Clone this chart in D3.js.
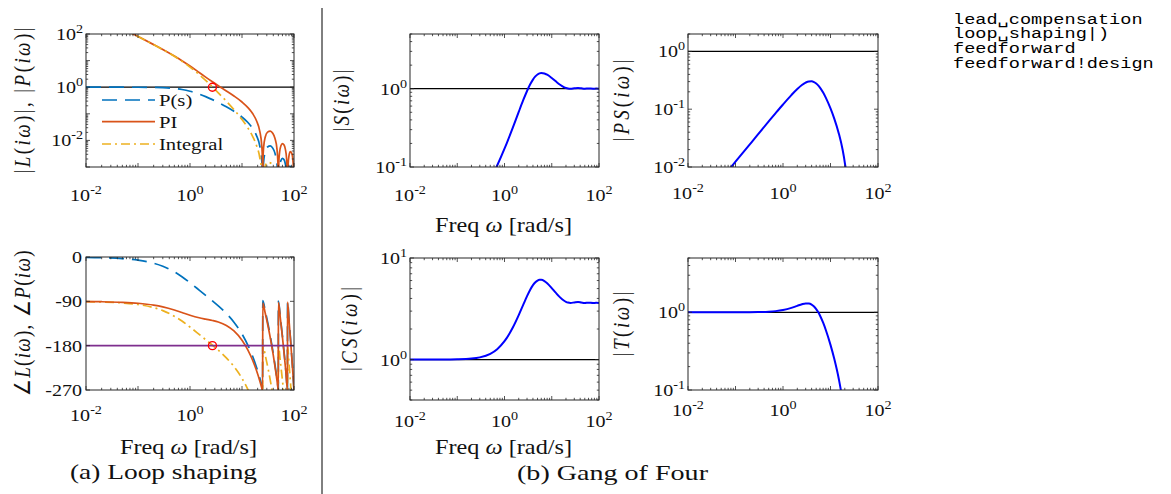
<!DOCTYPE html>
<html><head><meta charset="utf-8">
<script src="https://cdn.jsdelivr.net/npm/d3@7"></script>
<style>body{margin:0;background:#fff} svg{display:block}</style>
</head><body>
<svg id="c" width="1171" height="494"></svg>
<script>
// ---------------- data ----------------
const wLoop = [0.01,0.02,0.05,0.1,0.2,0.3,0.5,0.7,1,1.5,2,2.7,3.5,5,7,10,13,16,19,22,24,24.7,25,25.3,26,28,31,35,39,43,47,49,50,51,53,56,60,64,68,72,74,75,77,80,85,90,95,98,100];
const magP = [1.0,0.9998,0.9988,0.995,0.9805,0.9576,0.8938,0.8181,0.7052,0.5514,0.4425,0.3407,0.2659,0.1835,0.1239,0.0753,0.04686,0.02807,0.01507,0.00605,0.00173,0.000491,0.00001,0.000469,0.001475,0.003735,0.005667,0.006176,0.005137,0.003315,0.001326,0.000415,0.00001,0.000383,0.001042,0.001737,0.002102,0.001908,0.001326,0.000565,0.000182,0.00001,0.000334,0.000731,0.001047,0.000934,0.000518,0.000206,0.00001];
const magPI = [810,404.9,161.8,80.67,39.87,26.08,14.83,9.914,6.251,3.579,2.398,1.597,1.138,0.7244,0.4685,0.2779,0.1712,0.1021,0.05463,0.0219,0.006256,0.001775,0.00001,0.001695,0.00533,0.01349,0.02046,0.02229,0.01853,0.01196,0.004782,0.001497,0.00001,0.001381,0.003756,0.006262,0.007577,0.006878,0.00478,0.002036,0.000656,0.00001,0.001204,0.002633,0.003772,0.003366,0.001867,0.000742,0.00001];
const magInt = [810,405,161.8,80.6,39.71,25.86,14.48,9.467,5.712,2.978,1.792,1.022,0.6154,0.2973,0.1434,0.061,0.0292,0.01421,0.006424,0.002228,0.000584,0.000161,0.000001,0.00015,0.000459,0.00108,0.001481,0.001429,0.001067,0.000624,0.000229,0.0000686,0.000001,0.0000608,0.000159,0.000251,0.000284,0.000241,0.000158,0.0000636,0.00002,0.000001,0.0000351,0.000074,0.0000998,0.0000841,0.0000442,0.000017,0.000001];

const wPhase = [0.01,0.02,0.05,0.1,0.2,0.3,0.5,0.7,1,1.5,2,2.7,3.5,5,7,10,13,16,19,22,24,24.9,25.1,28,32,36,40,44,48,49.9,50.1,55,60,65,70,74.9,75.1,80,85,90,95,99.9];
const phaseP = [-0.645,-1.29,-3.22,-6.43,-12.75,-18.86,-30.17,-40.03,-52.2,-67.11,-77.83,-89.12,-99.25,-114.69,-132.27,-156.29,-179.2,-201.62,-223.79,-245.8,-260.41,-266.98,-88.44,-109.55,-138.61,-167.61,-196.57,-225.5,-254.41,-268.13,-89.58,-124.96,-161.05,-197.12,-233.18,-268.52,-89.96,-125.28,-161.33,-197.36,-233.4,-268.71];
const phasePI = [-90.39,-90.78,-91.95,-93.89,-97.67,-101.27,-107.64,-112.75,-118.24,-123.42,-126.2,-128.93,-131.99,-138.92,-150.09,-168.97,-189.02,-209.62,-230.54,-251.64,-265.77,-272.14,-93.56,-114.14,-142.63,-171.19,-199.79,-228.43,-257.09,-270.71,-92.15,-127.3,-163.2,-199.1,-235.02,-270.24,-91.68,-126.89,-162.85,-198.79,-234.76,-270.0];
const phaseInt = [-90.65,-91.29,-93.22,-96.43,-102.75,-108.86,-120.17,-130.03,-142.2,-157.11,-167.83,-179.12,-189.25,-204.69,-222.27,-246.29,-269.2,-291.62,-313.79,-335.8,-350.41,-356.98,-178.44,-199.55,-228.61,-257.61,-286.57,-315.5,-344.41,-358.13,-179.58,-214.96,-251.05,-287.12,-323.18,-358.52,-179.96,-215.28,-251.33,-287.36,-323.4,-358.71];

const crossW = [2.7];
const crossMag = [1];
const crossPhase = [-180];

const wGof = [0.01,0.05,0.1,0.2,0.3,0.5,0.7,1,1.5,2,2.5,3,3.5,4,4.5,5,5.5,6,7,8,10,12,15,18,20,22,25,30,36,42,50,60,75,87,100];
const gofS = [0.001235,0.00618,0.0124,0.02516,0.0386,0.0687,0.1045,0.1711,0.3184,0.5053,0.7178,0.9353,1.138,1.3077,1.4347,1.5198,1.568,1.5863,1.567,1.5094,1.3715,1.2516,1.1254,1.051,1.0225,1.0067,1.0,1.0116,1.0225,1.0115,1.0,1.0073,1.0,1.0038,1.0];
const gofPS = [0.001235,0.00617,0.01234,0.02467,0.03697,0.0614,0.0855,0.1207,0.1755,0.2236,0.2622,0.2888,0.3026,0.3042,0.295,0.2789,0.2587,0.2367,0.1941,0.1573,0.1033,0.0688,0.03777,0.01985,0.01194,0.00609,0.00001,0.00525,0.00632,0.00385,0.00001,0.00212,0.00001,0.00105,0.00001];
const gofCS = [1.0,1.001,1.0058,1.0229,1.0517,1.14,1.266,1.5165,2.066,2.738,3.476,4.209,4.871,5.401,5.775,6.0,6.1,6.099,5.925,5.645,5.061,4.585,4.096,3.813,3.704,3.643,3.615,3.652,3.69,3.65,3.605,3.632,3.604,3.617,3.604];
const gofT = [1.0,1.0,1.0007,1.003,1.007,1.0187,1.0357,1.0695,1.1394,1.2117,1.2697,1.2997,1.2951,1.2563,1.1872,1.1009,1.0066,0.91,0.7341,0.5882,0.3811,0.2519,0.1375,0.072,0.0433,0.022,0.00001,0.0189,0.0226,0.0139,0.00001,0.0076,0.00001,0.0038,0.00001];

const legendLabels = ["P(s)", "PI", "Integral"];
const freqTickExp = [-2, 0, 2];
const magTickExp = [-2, 0, 2];
const phaseTicks = [0, -90, -180, -270];
const sTickExp = [-1, 0];
const psTickExp = [-2, -1, 0];
const csTickExp = [0, 1];
const tTickExp = [-1, 0];
const indexLines = ["lead\u2423compensation", "loop\u2423shaping|)", "feedforward", "feedforward!design"];
const captions = ["(a) Loop shaping", "(b) Gang of Four"];

// ---------------- drawing ----------------
const svg = d3.select('#c');
const SX = 1.18;
const SERIF = "'Liberation Serif','Times New Roman',serif";
const C = {blue:'#0072BD', orange:'#D95319', yellow:'#EDB120', purple:'#7E2F8E', red:'#FF0000', gof:'#0000FF', axis:'#262626'};

function txt(parent, x, y, parts, o) {
  o = o || {};
  let tr = `translate(${x},${y}) scale(${SX},1)` + (o.rotate ? ' rotate(-90)' : '');
  const t = parent.append('g').attr('transform', tr).append('text')
    .attr('text-anchor', o.anchor || 'middle')
    .attr('font-family', o.family || SERIF)
    .attr('font-size', o.size || 17)
    .attr('fill', o.fill || '#111');
  parts.forEach(p => {
    const s = t.append('tspan').text(p.t).attr('font-style', p.i ? 'italic' : 'normal');
    if (p.sup) s.attr('font-size', o.supSize || 12).attr('dy', -7);
  });
  if (o.len) t.attr('textLength', o.rotate ? o.len : o.len / SX).attr('lengthAdjust', o.adjust || 'spacingAndGlyphs');
  return t;
}
function pow10(parent, x, y, e, anchor) {
  txt(parent, x, y, [{t:'10'}, {t:String(e), sup:true}], {anchor: anchor, size: 17});
}

let clipN = 0;
function panel(cfg) {
  const g = svg.append('g');
  const x = d3.scaleLog().domain([1e-2, 1e2]).range([cfg.x0, cfg.x1]);
  const y = cfg.ylog ? d3.scaleLog().domain(cfg.ydom).range([cfg.y1, cfg.y0])
                     : d3.scaleLinear().domain(cfg.ydom).range([cfg.y1, cfg.y0]);
  const id = 'clip' + (clipN++);
  svg.append('clipPath').attr('id', id).append('rect')
    .attr('x', cfg.x0).attr('y', cfg.y0).attr('width', cfg.x1 - cfg.x0).attr('height', cfg.y1 - cfg.y0);
  const plot = g.append('g').attr('clip-path', `url(#${id})`);
  const axes = g.append('g');
  const tk = (x1, y1, x2, y2) => axes.append('line').attr('x1', x1).attr('y1', y1).attr('x2', x2).attr('y2', y2)
      .attr('stroke', C.axis).attr('stroke-width', 0.8);
  const xt = [];
  for (let e = -2; e <= 2; e++) for (let k = 1; k <= 9; k++) { const v = k * Math.pow(10, e); if (v <= 100.0001) xt.push([v, k === 1]); }
  xt.forEach(([v, maj]) => { const px = x(v); const L = maj ? 4 : 2.2;
    tk(px, cfg.y1, px, cfg.y1 - L); tk(px, cfg.y0, px, cfg.y0 + L); });
  if (cfg.ylog) {
    const [a, b] = cfg.ydom;
    for (let e = Math.floor(Math.log10(a)); e <= Math.ceil(Math.log10(b)); e++) for (let k = 1; k <= 9; k++) {
      const v = k * Math.pow(10, e); if (v < a * 0.9999 || v > b * 1.0001) continue;
      const py = y(v); const L = k === 1 ? 4 : 2.2;
      tk(cfg.x0, py, cfg.x0 + L, py); tk(cfg.x1, py, cfg.x1 - L, py);
    }
  } else {
    cfg.yticks.forEach(v => { const py = y(v); tk(cfg.x0, py, cfg.x0 + 4, py); tk(cfg.x1, py, cfg.x1 - 4, py); });
  }
  axes.append('rect').attr('x', cfg.x0).attr('y', cfg.y0).attr('width', cfg.x1 - cfg.x0).attr('height', cfg.y1 - cfg.y0)
    .attr('fill', 'none').attr('stroke', C.axis).attr('stroke-width', 1);
  freqTickExp.forEach(e => pow10(g, x(Math.pow(10, e)), cfg.xlabY, e, 'middle'));
  return {g, plot, x, y, axes};
}

function curve(p, xs, ys, style, floor) {
  const data = xs.map((w, i) => [w, ys[i]]);
  const line = d3.line().x(d => p.x(d[0])).y(d => p.y(floor ? Math.max(d[1], floor) : d[1])).curve(d3.curveMonotoneX);
  const path = p.plot.append('path').datum(data).attr('d', line).attr('fill', 'none')
    .attr('stroke', style.color).attr('stroke-width', style.width || 1.7).attr('stroke-linejoin', 'round');
  if (style.dash) path.attr('stroke-dasharray', style.dash);
  return path;
}
function hline(p, v, color, w) {
  const [a, b] = p.x.range();
  p.plot.append('line').attr('x1', a).attr('x2', b).attr('y1', p.y(v)).attr('y2', p.y(v))
    .attr('stroke', color).attr('stroke-width', w || 1);
}

const dashP = '15,8', dashInt = '9,4,2,4';

// ---- (a) magnitude ----
const A1 = panel({x0:86, x1:294, y0:34, y1:167, ylog:true, ydom:[1e-3, 1e2], xlabY:200.5});
hline(A1, 1, '#000', 1.2);
curve(A1, wLoop, magP, {color:C.blue, dash:dashP}, 1e-6);
curve(A1, wLoop, magPI, {color:C.orange}, 1e-6);
curve(A1, wLoop, magInt, {color:C.yellow, dash:dashInt}, 1e-6);
A1.plot.selectAll('circle.cx').data(crossW).enter().append('circle')
  .attr('cx', (d) => A1.x(d)).attr('cy', (d, i) => A1.y(crossMag[i])).attr('r', 4)
  .attr('fill', 'none').attr('stroke', C.red).attr('stroke-width', 1.4);
magTickExp.forEach(e => pow10(A1.g, 83, A1.y(Math.pow(10, e)) + 6, e, 'end'));
txt(A1.g, 30, 100.5, [{t:'|'},{t:'L',i:1},{t:'('},{t:'iω',i:1},{t:')|,  |'},{t:'P',i:1},{t:'('},{t:'iω',i:1},{t:')|'}], {rotate:true, size:19, len:146, adjust:'spacing'});
const legStyles = [{color:C.blue, dash:dashP}, {color:C.orange}, {color:C.yellow, dash:dashInt}];
const legY = [100, 121.7, 144];
legendLabels.forEach((lab, i) => {
  const l = A1.g.append('line').attr('x1', 102).attr('x2', 155).attr('y1', legY[i]).attr('y2', legY[i])
    .attr('stroke', legStyles[i].color).attr('stroke-width', 1.7);
  if (legStyles[i].dash) l.attr('stroke-dasharray', legStyles[i].dash);
  txt(A1.g, 159, legY[i] + 6, [{t:lab}], {anchor:'start', size:17.5});
});

// ---- (a) phase ----
const A2 = panel({x0:86, x1:294, y0:257, y1:390, ylog:false, ydom:[-270, 0], yticks:phaseTicks, xlabY:420.5});
curve(A2, wPhase, phaseP, {color:C.blue, dash:dashP});
curve(A2, wPhase, phaseInt, {color:C.yellow, dash:dashInt});
curve(A2, wPhase, phasePI, {color:C.orange});
hline(A2, -180, C.purple, 1.7);
A2.plot.selectAll('circle.cx').data(crossW).enter().append('circle')
  .attr('cx', d => A2.x(d)).attr('cy', (d, i) => A2.y(crossPhase[i])).attr('r', 4)
  .attr('fill', 'none').attr('stroke', C.red).attr('stroke-width', 1.4);
phaseTicks.forEach(v => txt(A2.g, 82, A2.y(v) + 6, [{t:String(v)}], {anchor:'end', size:17}));
txt(A2.g, 30, 323.5, [{t:'∠'},{t:'L',i:1},{t:'('},{t:'iω',i:1},{t:'),  ∠'},{t:'P',i:1},{t:'('},{t:'iω',i:1},{t:')'}], {rotate:true, size:19, len:146, adjust:'spacing'});
txt(A2.g, 188.5, 453.5, [{t:'Freq '},{t:'ω',i:1},{t:' [rad/s]'}], {size:20, len:137});
txt(svg, 163.5, 479, [{t:captions[0]}], {size:20.5, len:187});

// ---- (b) gang of four ----
const B1 = panel({x0:410, x1:599, y0:34, y1:167, ylog:true, ydom:[0.1, 5], xlabY:200.5});
hline(B1, 1, '#000', 1.2);
curve(B1, wGof, gofS, {color:C.gof, width:2}, 1e-6);
sTickExp.forEach(e => pow10(B1.g, 407, B1.y(Math.pow(10, e)) + 6, e, 'end'));
txt(B1.g, 349, 100.5, [{t:'|'},{t:'S',i:1},{t:'('},{t:'iω',i:1},{t:')|'}], {rotate:true, size:19, len:62, adjust:'spacing'});
txt(B1.g, 503.5, 232, [{t:'Freq '},{t:'ω',i:1},{t:' [rad/s]'}], {size:20, len:137});

const B2 = panel({x0:688, x1:878, y0:34, y1:167, ylog:true, ydom:[0.01, 2], xlabY:199});
hline(B2, 1, '#000', 1.2);
curve(B2, wGof, gofPS, {color:C.gof, width:2}, 1e-6);
psTickExp.forEach(e => pow10(B2.g, 685, B2.y(Math.pow(10, e)) + 6, e, 'end'));
txt(B2.g, 629, 100.5, [{t:'|'},{t:'PS',i:1},{t:'('},{t:'iω',i:1},{t:')|'}], {rotate:true, size:19, len:82, adjust:'spacing'});

const B3 = panel({x0:410, x1:599, y0:258, y1:400, ylog:true, ydom:[0.4, 10], xlabY:427});
hline(B3, 1, '#000', 1.2);
curve(B3, wGof, gofCS, {color:C.gof, width:2}, 1e-6);
csTickExp.forEach(e => pow10(B3.g, 407, B3.y(Math.pow(10, e)) + 6, e, 'end'));
txt(B3.g, 357, 329, [{t:'|'},{t:'CS',i:1},{t:'('},{t:'iω',i:1},{t:')|'}], {rotate:true, size:19, len:84, adjust:'spacing'});
txt(B3.g, 503.5, 453.5, [{t:'Freq '},{t:'ω',i:1},{t:' [rad/s]'}], {size:20, len:137});

const B4 = panel({x0:688, x1:878, y0:258, y1:390, ylog:true, ydom:[0.1, 5], xlabY:415.5});
hline(B4, 1, '#000', 1.2);
curve(B4, wGof, gofT, {color:C.gof, width:2}, 1e-6);
tTickExp.forEach(e => pow10(B4.g, 685, B4.y(Math.pow(10, e)) + 6, e, 'end'));
txt(B4.g, 629, 324, [{t:'|'},{t:'T',i:1},{t:'('},{t:'iω',i:1},{t:')|'}], {rotate:true, size:19, len:65, adjust:'spacing'});

txt(svg, 612.5, 480, [{t:captions[1]}], {size:20.5, len:191});

svg.append('line').attr('x1', 322).attr('x2', 322).attr('y1', 8).attr('y2', 494).attr('stroke', '#000').attr('stroke-width', 1);

indexLines.forEach((s, i) => {
  txt(svg, 953, 23.5 + i * 14.8, [{t:s}], {anchor:'start', size:15.5, family:"'Liberation Mono','DejaVu Sans Mono',monospace", fill:'#000', len:s.length * 11.15});
});
</script></body></html>
